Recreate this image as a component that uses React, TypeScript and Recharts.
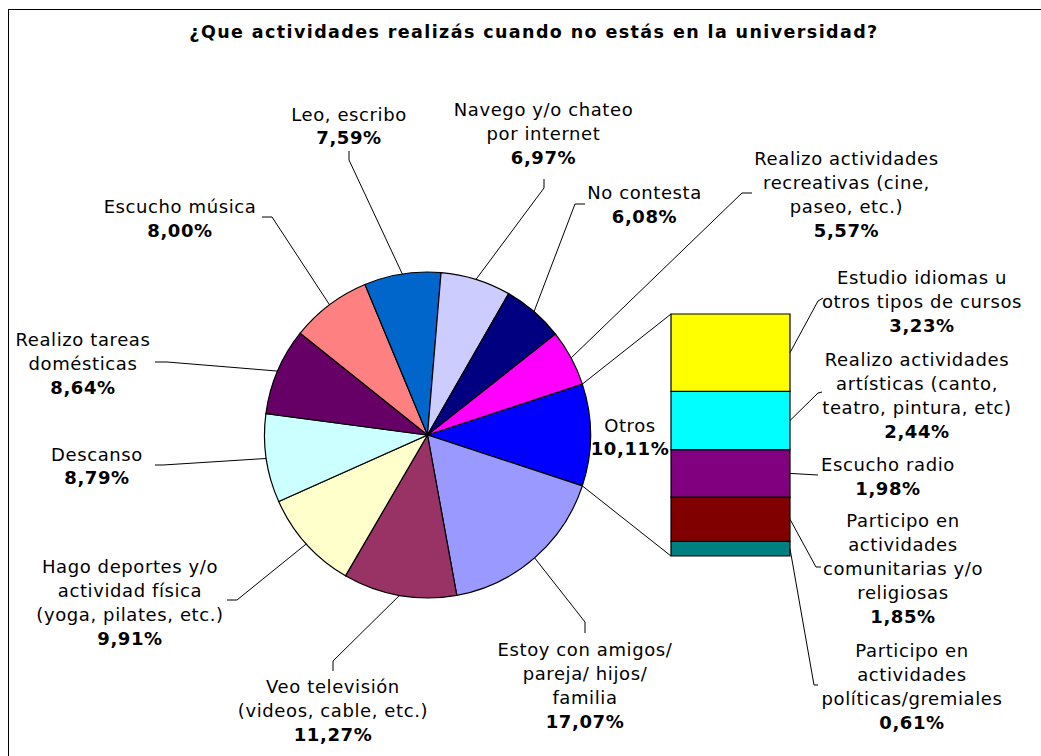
import React from 'react';
import { PieChart, Pie, Cell, BarChart, Bar, XAxis, YAxis, LabelList } from 'recharts';

// ---------- data ----------
const title = '¿Que actividades realizás cuando no estás en la universidad?';

const pieCategories = [
  'Otros',
  'Estoy con amigos/\npareja/ hijos/\nfamilia',
  'Veo televisión\n(videos, cable, etc.)',
  'Hago deportes y/o\nactividad física\n(yoga, pilates, etc.)',
  'Descanso',
  'Realizo tareas\ndomésticas',
  'Escucho música',
  'Leo, escribo',
  'Navego y/o chateo\npor internet',
  'No contesta',
  'Realizo actividades\nrecreativas (cine,\npaseo, etc.)',
];
const pieValues = [10.11, 17.07, 11.27, 9.91, 8.79, 8.64, 8.0, 7.59, 6.97, 6.08, 5.57];
const pieColors = ['#0000FF', '#9999FF', '#993366', '#FFFFCC', '#CCFFFF', '#660066', '#FF8080', '#0066CC', '#CCCCFF', '#000080', '#FF00FF'];

const otrosCategories = [
  'Estudio idiomas u\notros tipos de cursos',
  'Realizo actividades\nartísticas (canto,\nteatro, pintura, etc)',
  'Escucho radio',
  'Participo en\nactividades\ncomunitarias y/o\nreligiosas',
  'Participo en\nactividades\npolíticas/gremiales',
];
const otrosValues = [3.23, 2.44, 1.98, 1.85, 0.61];
const otrosColors = ['#FFFF00', '#00FFFF', '#800080', '#800000', '#008080'];

// ---------- layout ----------
const W = 1041;
const H = 756;
const FONT = '"DejaVu Sans", Verdana, sans-serif';
const FS = 18;
const LS = 0.6;
const LH = 24;
const PIE_CX = 427.5;
const PIE_CY = 435;
const PIE_R = 163;
const BAR_LEFT = 671;
const BAR_RIGHT = 790;
const BAR_TOP = 314;
const BAR_BOTTOM = 556;

// label position (center x, first baseline y), leader: a = attach near text, e = elbow
const pieLabelLayout = [
  { x: 630, y: 432, lh: 23 },
  { x: 585, y: 656, a: [585, 633], e: [585, 622] },
  { x: 333, y: 693, a: [333, 671], e: [333, 661] },
  { x: 130, y: 573, a: [227, 600], e: [237, 600] },
  { x: 97, y: 461, lh: 23, a: [155, 465], e: [163, 465] },
  { x: 83, y: 346, a: [155, 362], e: [167, 362] },
  { x: 180, y: 213, a: [262, 217], e: [272, 217] },
  { x: 349, y: 121, lh: 23, a: [349, 151], e: [349, 160] },
  { x: 543.5, y: 116, a: [544, 179], e: [544, 188] },
  { x: 644.5, y: 199, a: [585, 204], e: [575, 204] },
  { x: 846.5, y: 165, a: [752, 193], e: [742, 193] },
];
const barLabelLayout = [
  { x: 922, y: 284, a: [823, 298], e: [818, 301] },
  { x: 917, y: 366, a: [822, 392], e: [818, 393] },
  { x: 888, y: 471, a: [818, 475], e: [818, 475] },
  { x: 903, y: 527, a: [821, 567], e: [816, 567] },
  { x: 912, y: 657, a: [818, 685], e: [814, 685] },
];

const pieData = pieCategories.map((name, i) => ({ name, value: pieValues[i] }));
const pieTotal = pieValues.reduce((s, v) => s + v, 0);
const startAngle = (pieValues[0] / pieTotal) * 180;

const otrosTotal = otrosValues.reduce((s, v) => s + v, 0);
const barRow: Record<string, any> = { name: 'Otros' };
otrosValues.forEach((v, i) => (barRow['s' + i] = v));
const barData = [barRow];

const fmt = (v: number) => v.toFixed(2).replace('.', ',') + '%';

function MultiText({ x, y, name, value, lh }: { x: number; y: number; name: string; value: number; lh?: number }) {
  const lines = name.split('\n');
  const step = lh ?? LH;
  return (
    <text x={x} y={y} textAnchor="middle" fontFamily={FONT} fontSize={FS} letterSpacing={LS} fill="#000">
      {lines.map((l, i) => (
        <tspan key={i} x={x} y={y + i * step}>
          {l}
        </tspan>
      ))}
      <tspan x={x} y={y + lines.length * step} fontWeight="bold">
        {fmt(value)}
      </tspan>
    </text>
  );
}

const RAD = Math.PI / 180;
const polar = (cx: number, cy: number, r: number, ang: number) => [cx + r * Math.cos(-ang * RAD), cy + r * Math.sin(-ang * RAD)];

const renderPieLabel = (props: any) => {
  const { cx, cy, outerRadius, midAngle, index, value } = props;
  const L: any = pieLabelLayout[index];
  const els: any[] = [];
  if (L.a) {
    const [px, py] = polar(cx, cy, outerRadius, midAngle);
    els.push(
      <polyline
        key="l"
        points={`${L.a[0]},${L.a[1]} ${L.e[0]},${L.e[1]} ${px},${py}`}
        fill="none"
        stroke="#000"
        strokeWidth={1}
      />
    );
  }
  if (index === 0) {
    const [sx, sy] = polar(cx, cy, outerRadius, props.startAngle);
    const [ex, ey] = polar(cx, cy, outerRadius, props.endAngle);
    els.push(<line key="c1" x1={sx} y1={sy} x2={BAR_LEFT} y2={BAR_TOP} stroke="#000" strokeWidth={1} />);
    els.push(<line key="c2" x1={ex} y1={ey} x2={BAR_LEFT} y2={BAR_BOTTOM} stroke="#000" strokeWidth={1} />);
  }
  els.push(<MultiText key="t" x={L.x} y={L.y} lh={L.lh} name={pieCategories[index]} value={value} />);
  return <g>{els}</g>;
};

const makeBarLabel = (i: number) => (props: any) => {
  const { x, y, width, height } = props;
  const L = barLabelLayout[i];
  const rx = Number(x) + Number(width);
  const ry = Number(y) + Number(height) / 2;
  return (
    <g>
      <polyline points={`${rx},${ry} ${L.e[0]},${L.e[1]} ${L.a[0]},${L.a[1]}`} fill="none" stroke="#000" strokeWidth={1} />
      <MultiText x={L.x} y={L.y} name={otrosCategories[i]} value={otrosValues[i]} />
    </g>
  );
};

export default function App() {
  const order = [4, 3, 2, 1, 0];
  return (
    <div style={{ position: 'absolute', left: 0, top: 0, width: W, height: H, overflow: 'hidden', background: '#fff' }}>
      <svg width={W} height={H} style={{ position: 'absolute', left: 0, top: 0 }}>
        <rect x={8.5} y={9.5} width={W + 50} height={H + 50} fill="#fff" stroke="#000" strokeWidth={1} />
        <text x={534} y={38} textAnchor="middle" fontFamily={FONT} fontSize={17.5} fontWeight="bold" letterSpacing={1.4} fill="#000">
          {title}
        </text>
      </svg>
      <div style={{ position: 'absolute', left: 0, top: 0 }}>
        <PieChart width={W} height={H} margin={{ top: 0, right: 0, bottom: 0, left: 0 }}>
          <Pie
            data={pieData}
            dataKey="value"
            nameKey="name"
            cx={PIE_CX}
            cy={PIE_CY}
            outerRadius={PIE_R}
            startAngle={startAngle}
            endAngle={startAngle - 360}
            stroke="#000"
            strokeWidth={1.2}
            label={renderPieLabel}
            labelLine={false}
            isAnimationActive={false}
          >
            {pieData.map((_, i) => (
              <Cell key={i} fill={pieColors[i]} />
            ))}
          </Pie>
        </PieChart>
      </div>
      <div style={{ position: 'absolute', left: 0, top: 0 }}>
        <BarChart
          width={W}
          height={H}
          data={barData}
          margin={{ top: BAR_TOP, left: BAR_LEFT, right: W - BAR_RIGHT, bottom: H - BAR_BOTTOM }}
          barCategoryGap={0}
        >
          <XAxis dataKey="name" hide />
          <YAxis hide type="number" domain={[0, otrosTotal]} />
          {order.map((i) => (
            <Bar key={i} dataKey={'s' + i} stackId="a" fill={otrosColors[i]} stroke="#000" strokeWidth={1.2} isAnimationActive={false}>
              <LabelList content={makeBarLabel(i)} />
            </Bar>
          ))}
        </BarChart>
      </div>
    </div>
  );
}
